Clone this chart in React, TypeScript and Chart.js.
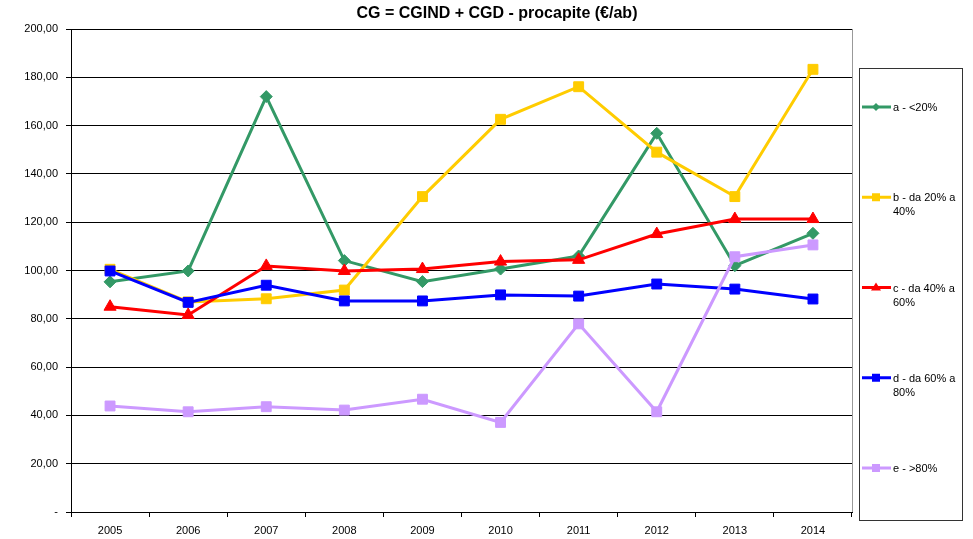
import React, { useEffect, useRef } from "react";
import { Chart, registerables } from "chart.js";

Chart.register(...registerables);

const chartTitle = "CG = CGIND + CGD - procapite (€/ab)";
const years = ["2005", "2006", "2007", "2008", "2009", "2010", "2011", "2012", "2013", "2014"];
const seriesLabels = ["a - <20%", "b - da 20% a 40%", "c - da 40% a 60%", "d - da 60% a 80%", "e - >80%"];
const seriesA = [95.3, 99.8, 172.0, 104.1, 95.4, 100.6, 106.0, 156.8, 102.0, 115.4];
const seriesB = [100.5, 87.0, 88.3, 91.9, 130.6, 162.6, 176.1, 149.0, 130.6, 183.3];
const seriesC = [85.0, 81.6, 101.9, 99.8, 100.6, 103.7, 104.4, 115.1, 121.3, 121.3];
const seriesD = [99.8, 86.8, 93.9, 87.4, 87.4, 89.9, 89.4, 94.4, 92.3, 88.2];
const seriesE = [43.9, 41.5, 43.6, 42.2, 46.7, 37.1, 77.9, 41.5, 105.7, 110.6];
const yTickLabels = ["-", "20,00", "40,00", "60,00", "80,00", "100,00", "120,00", "140,00", "160,00", "180,00", "200,00"];

const colors = ["#339966", "#FFCC00", "#FF0000", "#0000FF", "#CC99FF"];
const styles = ["rectRot", "rect", "triangle", "rect", "rect"];
const radii = [6, 7, 7, 7, 7];

const FONT = "Arial, 'Liberation Sans', sans-serif";

const overlayPlugin = {
  id: "overlay",
  afterDraw(chart: any) {
    const ctx = chart.ctx;
    const area = chart.chartArea;
    ctx.save();
    // title
    ctx.fillStyle = "#000";
    ctx.font = `bold 16px ${FONT}`;
    ctx.textAlign = "center";
    ctx.textBaseline = "middle";
    ctx.fillText(chartTitle, 497, 14);
    // right border of plot area
    ctx.strokeStyle = "#999";
    ctx.lineWidth = 1;
    ctx.beginPath();
    ctx.moveTo(Math.round(area.right) + 0.5, area.top);
    ctx.lineTo(Math.round(area.right) + 0.5, area.bottom);
    ctx.stroke();
    // legend box
    const bx = 859.5, by = 68.5, bw = 103, bh = 452;
    ctx.strokeStyle = "#333";
    ctx.strokeRect(bx, by, bw, bh);
    const step = 90.25;
    chart.data.datasets.forEach((ds: any, i: number) => {
      const y = 107 + i * step;
      ctx.strokeStyle = ds.borderColor;
      ctx.lineWidth = 3;
      ctx.beginPath();
      ctx.moveTo(862, y);
      ctx.lineTo(891, y);
      ctx.stroke();
      ctx.fillStyle = ds.borderColor;
      const s = ds.pointStyle;
      ctx.beginPath();
      if (s === "rectRot") {
        ctx.moveTo(876, y - 4);
        ctx.lineTo(880, y);
        ctx.lineTo(876, y + 4);
        ctx.lineTo(872, y);
        ctx.closePath();
      } else if (s === "triangle") {
        ctx.moveTo(876, y - 5);
        ctx.lineTo(881, y + 3);
        ctx.lineTo(871, y + 3);
        ctx.closePath();
      } else {
        ctx.rect(872, y - 4, 8, 8);
      }
      ctx.fill();
      // text with wrap
      ctx.fillStyle = "#000";
      ctx.font = `11px ${FONT}`;
      ctx.textAlign = "left";
      ctx.textBaseline = "middle";
      const words = String(ds.label).split(" ");
      const lines: string[] = [];
      let cur = "";
      words.forEach((w) => {
        const t = cur ? cur + " " + w : w;
        if (ctx.measureText(t).width > 68 && cur) {
          lines.push(cur);
          cur = w;
        } else cur = t;
      });
      if (cur) lines.push(cur);
      lines.forEach((l, k) => ctx.fillText(l, 893, y + 1 + k * 14));
    });
    ctx.restore();
  },
};

export default function App() {
  const ref = useRef<HTMLCanvasElement>(null);
  useEffect(() => {
    document.body.style.margin = "0";
    const data = [seriesA, seriesB, seriesC, seriesD, seriesE];
    const chart = new Chart(ref.current!, {
      type: "line",
      data: {
        labels: years,
        datasets: data.map((d, i) => ({
          label: seriesLabels[i],
          data: d,
          borderColor: colors[i],
          backgroundColor: colors[i],
          pointBackgroundColor: colors[i],
          pointBorderColor: colors[i],
          pointBorderWidth: 1,
          pointStyle: styles[i] as any,
          pointRadius: radii[i],
          borderWidth: 3,
          tension: 0,
          fill: false,
          order: 5 - i,
        })),
      },
      options: {
        animation: false,
        responsive: false,
        maintainAspectRatio: false,
        layout: { padding: { top: 29, right: 121, bottom: 0, left: 0 } },
        plugins: {
          legend: { display: false },
          title: { display: false },
          tooltip: { enabled: false },
        },
        scales: {
          x: {
            type: "category",
            offset: true,
            grid: {
              drawOnChartArea: false,
              drawTicks: true,
              tickLength: 5,
              color: "#000",
              offset: true,
            },
            border: { color: "#000", width: 1 },
            ticks: {
              color: "#000",
              font: { family: FONT, size: 11 },
              padding: 7,
              maxRotation: 0,
              autoSkip: false,
            },
            afterFit: (s: any) => {
              s.height = 27;
            },
          },
          y: {
            min: 0,
            max: 200,
            ticks: {
              stepSize: 20,
              color: "#000",
              font: { family: FONT, size: 11 },
              padding: 8,
              callback: (_v: any, idx: number) => yTickLabels[idx],
            },
            grid: { color: "#000", lineWidth: 1, drawTicks: true, tickLength: 5 },
            border: { color: "#000", width: 1 },
            afterFit: (s: any) => {
              s.width = 71;
            },
          },
        },
      },
      plugins: [overlayPlugin],
    });
    return () => chart.destroy();
  }, []);
  return <canvas ref={ref} width={973} height={539} style={{ display: "block" }} />;
}
